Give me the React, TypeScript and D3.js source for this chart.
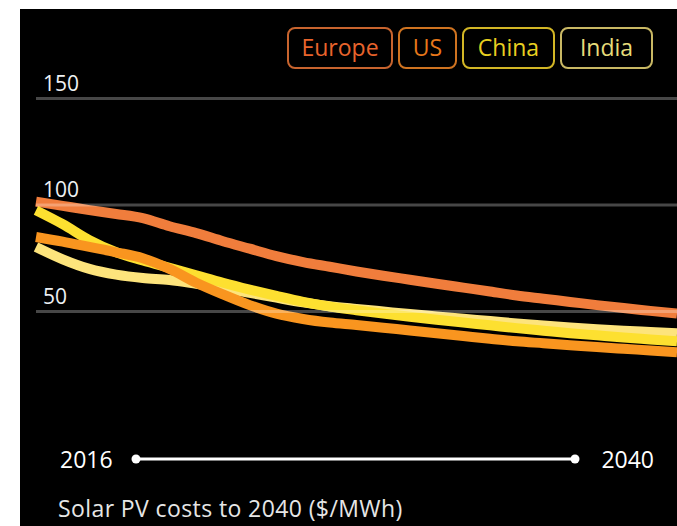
import React from "react";
import * as d3 from "d3";

const years = d3.range(2016, 2041);

const europe = [101.6, 99.6, 97.6, 95.8, 93.8, 90, 86.8, 83, 79.5, 76, 73.2, 71, 68.8, 66.8, 64.9, 63, 61.2, 59.4, 57.5, 56, 54.5, 53, 51.6, 50.3, 49];
const us = [85, 82.8, 80.3, 77.8, 75, 70, 63.5, 58, 53, 49, 46.5, 44.8, 43.7, 42.4, 41.1, 39.8, 38.5, 37.2, 36, 35.1, 34.2, 33.3, 32.5, 31.7, 30.9];
const china = [97.5, 91, 83.5, 77.8, 74, 70.5, 67, 63.5, 60.3, 57.3, 54.5, 52.3, 50.6, 49, 47.5, 46.1, 44.8, 43.5, 42.2, 41, 39.8, 38.8, 37.8, 36.9, 36];
const india = [80.3, 74.5, 70, 67.3, 65.7, 64.8, 63, 61, 58.8, 56.5, 54.3, 52.5, 51.2, 50, 48.8, 47.7, 46.6, 45.5, 44.4, 43.4, 42.5, 41.7, 41, 40.4, 39.8];

const yTicks = [50, 100, 150];
const legendNames = ["Europe", "US", "China", "India"];

const W = 677;
const H = 526;
const FONT = "'Open Sans', Lato, sans-serif";

const series = [
  { name: "Europe", values: europe, color: "#f07d3c", text: "#e8642c", border: "#c8642e" },
  { name: "India", values: india, color: "#fde47c", text: "#e6dc7a", border: "#c9b864" },
  { name: "China", values: china, color: "#fde030", text: "#e8d020", border: "#d2b625" },
  { name: "US", values: us, color: "#f9951f", text: "#e8781a", border: "#cf7320" },
];

export default function App() {
  const x = d3.scaleLinear().domain([2016, 2040]).range([36, 677]);
  const y = d3.scaleLinear().domain([0, 150]).range([418, 98.5]);

  const line = d3
    .line<number>()
    .x((_, i) => x(years[i]))
    .y((d) => y(d))
    .curve(d3.curveMonotoneX);

  // legend boxes, left to right
  const boxW = [104, 57, 91, 91];
  const boxX: number[] = [];
  let cx = 288;
  boxW.forEach((w) => {
    boxX.push(cx);
    cx += w + 7;
  });

  return (
    <svg
      width={W}
      height={H}
      style={{ position: "absolute", left: 0, top: 0, background: "#fff" }}
    >
      <rect x={20} y={9} width={W - 20} height={H - 9} fill="#000" />

      {series.map((s) => (
        <path
          key={s.name}
          d={line(s.values) || ""}
          fill="none"
          stroke={s.color}
          strokeWidth={10}
        />
      ))}

      {yTicks.map((t) => (
        <g key={t}>
          <line
            x1={36}
            x2={W}
            y1={y(t)}
            y2={y(t)}
            stroke="rgba(255,255,255,0.28)"
            strokeWidth={3}
          />
          <text
            x={43}
            y={y(t) - 8}
            fill="#eef0f4"
            fontSize={21}
            fontFamily={FONT}
          >
            {t}
          </text>
        </g>
      ))}

      {legendNames.map((n, i) => {
        const s = series.find((d) => d.name === n)!;
        return (
          <g key={n} transform={`translate(${boxX[i]},28)`}>
            <rect
              x={0}
              y={0}
              width={boxW[i]}
              height={40}
              rx={7}
              fill="none"
              stroke={s.border}
              strokeWidth={2}
            />
            <text
              x={boxW[i] / 2}
              y={28}
              textAnchor="middle"
              fill={s.text}
              fontSize={23}
              fontFamily={FONT}
            >
              {n}
            </text>
          </g>
        );
      })}

      <text x={60} y={468} fill="#fff" fontSize={23} fontFamily={FONT}>
        2016
      </text>
      <line x1={136} x2={575} y1={459} y2={459} stroke="#fff" strokeWidth={3} />
      <circle cx={136} cy={459} r={4.5} fill="#fff" />
      <circle cx={575} cy={459} r={4.5} fill="#fff" />
      <text x={654} y={468} textAnchor="end" fill="#fff" fontSize={23} fontFamily={FONT}>
        2040
      </text>

      <text x={58} y={517} fill="#e6e6e6" fontSize={23} letterSpacing={0.4} fontFamily={FONT}>
        Solar PV costs to 2040 ($/MWh)
      </text>
    </svg>
  );
}
